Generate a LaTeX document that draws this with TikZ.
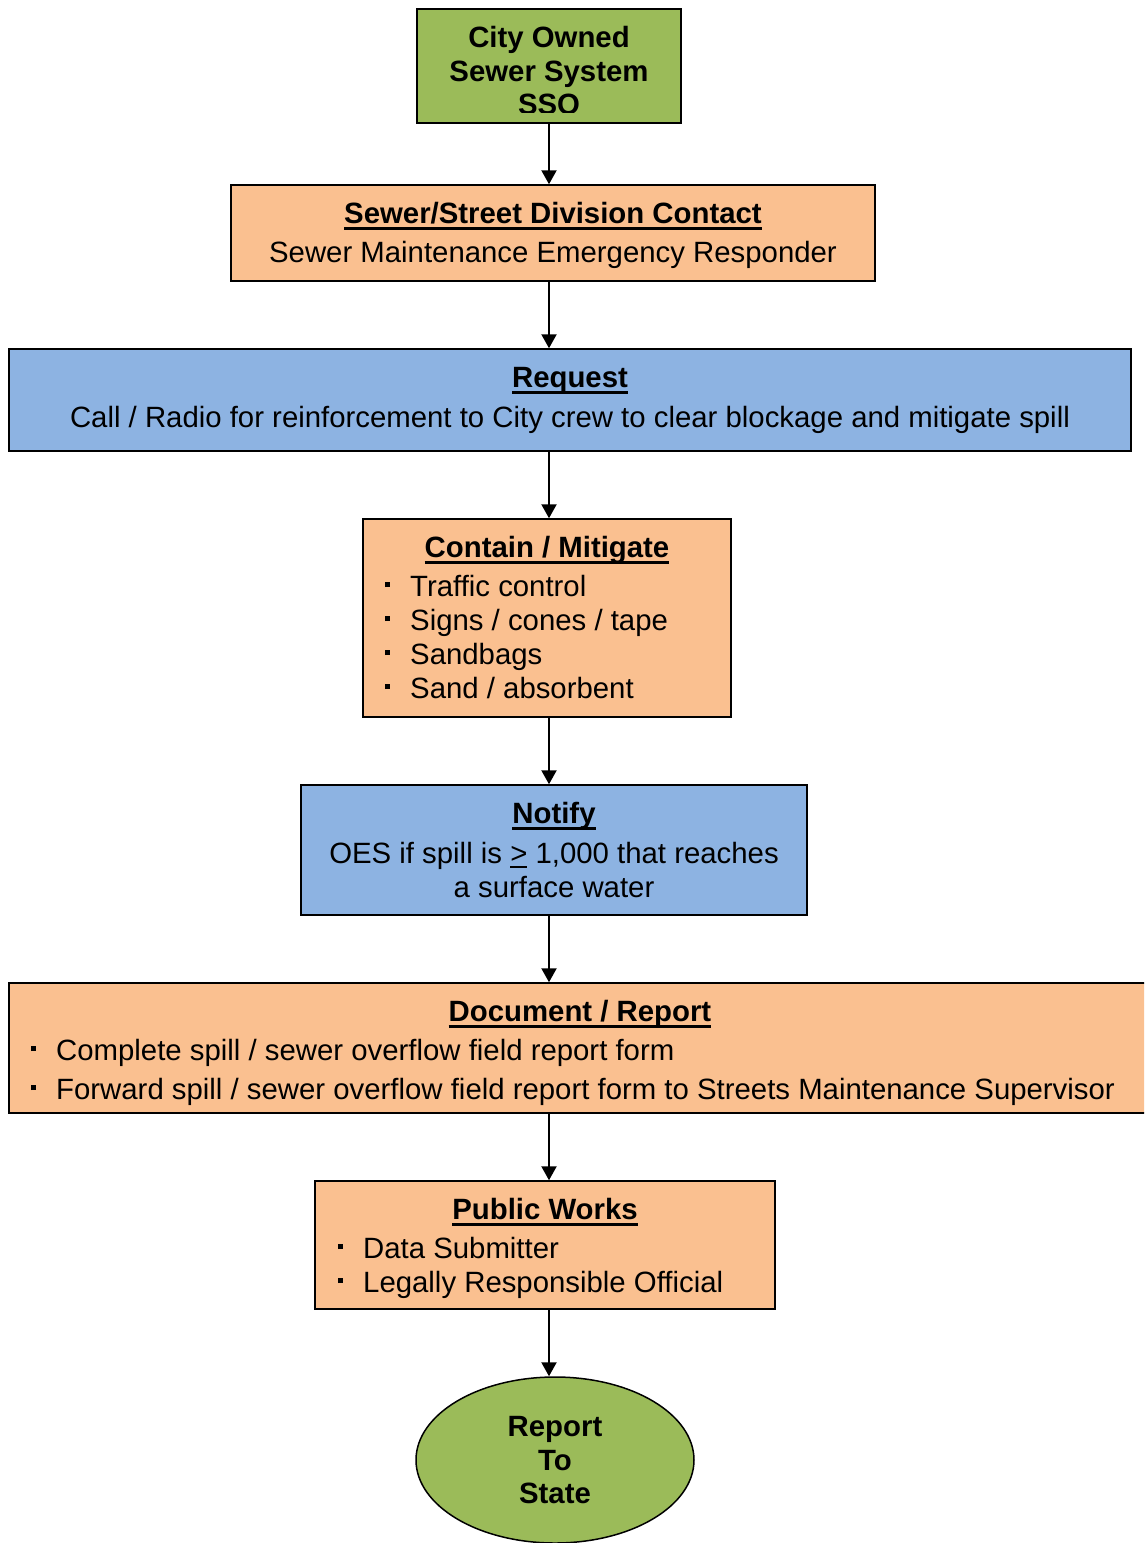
\documentclass[tikz,border=0pt]{standalone}
\usepackage{fontspec}
\setmainfont{Liberation Sans}
\usetikzlibrary{shapes.geometric,arrows.meta}

\definecolor{boxgreen}{HTML}{9BBB59}
\definecolor{boxorange}{HTML}{FAC090}
\definecolor{boxblue}{HTML}{8DB3E2}

% bold heading with a heavy underline
\newcommand\headline[1]{{\setbox0=\hbox{\bfseries #1}\rlap{\vrule width\wd0 height -4pt depth 6.8pt}\box0}}
% underlined "greater than" sign
\newcommand\geqsign{{\setbox0=\hbox{>}\rlap{\vrule width\wd0 height -3pt depth 4.8pt}\box0}}
% small square bullet followed by the item text
\newcommand\sqitem[1]{\rlap{\raisebox{9pt}{\rule{4.7pt}{4.7pt}}}\hspace{25pt}#1}

\tikzset{
  box/.style={draw=black, line width=1.5pt, rectangle, inner sep=0pt},
  oval/.style={draw=black, line width=1.5pt, ellipse, inner sep=0pt},
  txt/.style={inner sep=0pt, anchor=base},
  ltxt/.style={inner sep=0pt, anchor=base west},
  flow/.style={line width=2.2pt, -{Triangle[length=14pt,width=15pt]}},
}

\begin{document}
\begin{tikzpicture}[x=1pt, y=-1pt, font=\fontsize{29.35}{34}\selectfont]
\clip (0,0) rectangle (1144,1543);
\fill[white] (0,0) rectangle (1144,1543);

\coordinate (axis) at (549,0);

% boxes
\node[box, fill=boxgreen,  minimum width=264pt,  minimum height=114pt] (src)  at (549,66) {};
\node[box, fill=boxorange, minimum width=644pt,  minimum height=96pt]  (cont) at (553,233) {};
\node[box, fill=boxblue,   minimum width=1122pt, minimum height=102pt] (req)  at (570,400) {};
\node[box, fill=boxorange, minimum width=368pt,  minimum height=198pt] (mit)  at (547,618) {};
\node[box, fill=boxblue,   minimum width=506pt,  minimum height=130pt] (ntf)  at (554,850) {};
\node[box, fill=boxorange, minimum width=1151pt, minimum height=130pt] (doc)  at (584.5,1048) {};
\node[box, fill=boxorange, minimum width=460pt,  minimum height=128pt] (pw)   at (545,1245) {};
\node[oval, fill=boxgreen, minimum width=278pt,  minimum height=166pt] (st)   at (555,1460) {};

% connectors
\draw[flow] (src.south -| axis) -- (cont.north -| axis);
\draw[flow] (cont.south -| axis) -- (req.north -| axis);
\draw[flow] (req.south -| axis) -- (mit.north -| axis);
\draw[flow] (mit.south -| axis) -- (ntf.north -| axis);
\draw[flow] (ntf.south -| axis) -- (doc.north -| axis);
\draw[flow] (doc.south -| axis) -- (pw.north -| axis);
\draw[flow] (pw.south -| axis) -- (st.north -| axis);

% top box text, cut off at the lower edge
\begin{scope}
  \clip (417,9) rectangle (681,112);
  \node[txt, font=\fontsize{29.35}{34}\selectfont\bfseries] (srcA) at (549,47) {City Owned};
  \node[txt, font=\fontsize{29.35}{34}\selectfont\bfseries] (srcB) at (549,81) {Sewer System};
  \node[txt, font=\fontsize{29.35}{34}\selectfont\bfseries] (srcC) at (549,114) {SSO};
\end{scope}

% contact
\node[txt] (contT) at (553,223) {\headline{Sewer/Street Division Contact}};
\node[txt] (contA) at (553,262) {Sewer Maintenance Emergency Responder};

% request
\node[txt] (reqT) at (570,387) {\headline{Request}};
\node[txt] (reqA) at (570,427) {Call / Radio for reinforcement to City crew to clear blockage and mitigate spill};

% contain / mitigate
\node[txt] (mitT) at (547,557) {\headline{Contain / Mitigate}};
\node[ltxt] (mitA) at (385,596) {\sqitem{Traffic control}};
\node[ltxt] (mitB) at (385,630) {\sqitem{Signs / cones / tape}};
\node[ltxt] (mitC) at (385,664) {\sqitem{Sandbags}};
\node[ltxt] (mitD) at (385,698) {\sqitem{Sand / absorbent}};

% notify
\node[txt] (ntfT) at (554,823) {\headline{Notify}};
\node[txt] (ntfA) at (554,863) {OES if spill is \geqsign{} 1,000 that reaches};
\node[txt] (ntfB) at (554,897) {a surface water};

% document / report
\node[txt] (docT) at (580,1021) {\headline{Document / Report}};
\node[ltxt] (docA) at (31,1060) {\sqitem{Complete spill / sewer overflow field report form}};
\node[ltxt] (docB) at (31,1099) {\sqitem{Forward spill / sewer overflow field report form to Streets Maintenance Supervisor}};

% public works
\node[txt] (pwT) at (545,1219) {\headline{Public Works}};
\node[ltxt] (pwA) at (338,1258) {\sqitem{Data Submitter}};
\node[ltxt] (pwB) at (338,1292) {\sqitem{Legally Responsible Official}};

% final step
\node[txt, font=\fontsize{29.35}{34}\selectfont\bfseries] (stA) at (555,1436) {Report};
\node[txt, font=\fontsize{29.35}{34}\selectfont\bfseries] (stB) at (555,1470) {To};
\node[txt, font=\fontsize{29.35}{34}\selectfont\bfseries] (stC) at (555,1503) {State};
\end{tikzpicture}
\end{document}
